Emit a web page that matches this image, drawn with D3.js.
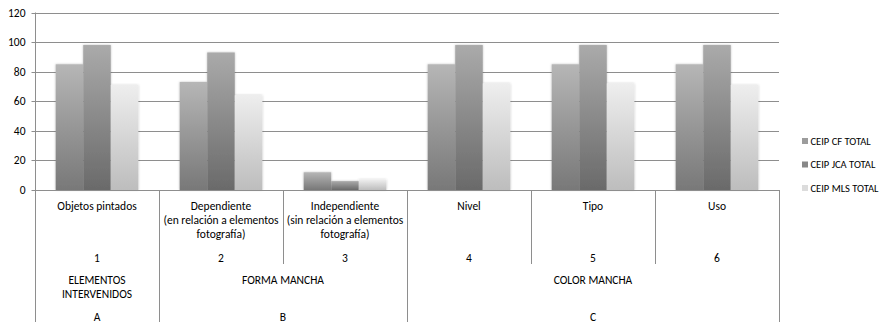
<!DOCTYPE html>
<html>
<head>
<meta charset="utf-8">
<script src="https://cdn.jsdelivr.net/npm/d3@7"></script>
<style>
  html, body { margin: 0; padding: 0; background: #fff; }
  svg { display: block; font-family: Carlito, Calibri, Lato, "Open Sans", sans-serif; }
</style>
</head>
<body>
<svg id="chart" width="890" height="322"></svg>
<script>
// Category labels (one entry per line of text)
const categoryLines = [
  ["Objetos pintados"],
  ["Dependiente", "(en relación a elementos", "fotografía)"],
  ["Independiente", "(sin relación a elementos", "fotografía)"],
  ["Nivel"],
  ["Tipo"],
  ["Uso"]
];
const categoryNumbers = ["1", "2", "3", "4", "5", "6"];

// Outer grouping of categories
const groupNames = [["ELEMENTOS", "INTERVENIDOS"], ["FORMA MANCHA"], ["COLOR MANCHA"]];
const groupLetters = ["A", "B", "C"];
const groupSizes = [1, 2, 3];

// Series
const seriesNames = ["CEIP CF TOTAL", "CEIP JCA TOTAL", "CEIP MLS TOTAL"];
const cfTotal  = [85, 73, 12, 85, 85, 85];
const jcaTotal = [98, 93, 6, 98, 98, 98];
const mlsTotal = [71, 64, 7, 72, 72, 71];
const seriesValues = [cfTotal, jcaTotal, mlsTotal];

const yTicks = [0, 20, 40, 60, 80, 100, 120];

const svg = d3.select("#chart");
const W = 890, H = 322;
const plot = { left: 35, right: 779, top: 12.5, bottom: 190 };
const axisColor = "#8e8e8e";
const textColor = "#000";

// Gradient fills per series (light at top, darker at bottom)
const gradStops = [
  ["#b6b6b6", "#787878"],
  ["#aaaaaa", "#6a6a6a"],
  ["#eeeeee", "#bdbdbd"]
];
const defs = svg.append("defs");
gradStops.forEach((s, i) => {
  const g = defs.append("linearGradient")
    .attr("id", "grad" + i)
    .attr("x1", 0).attr("y1", 0).attr("x2", 0).attr("y2", 1);
  g.append("stop").attr("offset", "0%").attr("stop-color", s[0]);
  g.append("stop").attr("offset", "100%").attr("stop-color", s[1]);
});
const shadow = defs.append("filter").attr("id", "soft")
  .attr("x", "-20%").attr("y", "-20%").attr("width", "140%").attr("height", "140%");
shadow.append("feDropShadow")
  .attr("dx", 0).attr("dy", 0).attr("stdDeviation", 0.8)
  .attr("flood-color", "#000").attr("flood-opacity", 0.25);

const idx = d3.range(categoryLines.length);

const x0 = d3.scaleBand()
  .domain(idx)
  .range([plot.left, plot.right])
  .paddingInner(1 / 3)
  .paddingOuter(1 / 6);
const step = x0.step();
const edge = i => x0(i) - (step - x0.bandwidth()) / 2;   // left boundary of a category slot

const x1 = d3.scaleBand()
  .domain(d3.range(seriesNames.length))
  .range([0, x0.bandwidth()]);

const y = d3.scaleLinear().domain([0, 120]).range([plot.bottom, plot.top]);

// Gridlines
svg.append("g")
  .selectAll("line")
  .data(yTicks.filter(t => t > 0))
  .join("line")
  .attr("x1", plot.left).attr("x2", plot.right)
  .attr("y1", d => Math.round(y(d)) + 0.5).attr("y2", d => Math.round(y(d)) + 0.5)
  .attr("stroke", axisColor).attr("stroke-width", 1);

// Y axis
const yAxis = d3.axisLeft(y).tickValues(yTicks).tickSize(4).tickPadding(6).tickSizeOuter(0);
const yg = svg.append("g").attr("transform", `translate(${plot.left + 0.5},0)`).call(yAxis);
yg.select(".domain").remove();
yg.selectAll(".tick line").attr("stroke", axisColor);
yg.selectAll(".tick text").attr("font-size", 11.5).attr("fill", textColor)
  .style("font-family", "Carlito, Calibri, Lato, sans-serif");
yg.selectAll(".tick").attr("transform", d => `translate(0,${Math.round(y(d)) + 0.5})`);

// Bars
const bars = svg.append("g").attr("filter", "url(#soft)");
seriesValues.forEach((vals, s) => {
  bars.append("g")
    .selectAll("rect")
    .data(vals)
    .join("rect")
    .attr("x", (d, i) => x0(i) + x1(s))
    .attr("width", x1.bandwidth())
    .attr("y", d => y(d))
    .attr("height", d => y(0) - y(d))
    .attr("fill", `url(#grad${s})`);
});

// Axis lines: vertical value axis through label area, baseline
svg.append("line")
  .attr("x1", plot.left + 0.5).attr("x2", plot.left + 0.5)
  .attr("y1", plot.top).attr("y2", H)
  .attr("stroke", axisColor);
svg.append("line")
  .attr("x1", plot.left).attr("x2", plot.right)
  .attr("y1", plot.bottom + 0.5).attr("y2", plot.bottom + 0.5)
  .attr("stroke", axisColor);

// Category dividers: inner level stops at level boundary, group edges run to bottom
const levelBottom = 264;
const groupEdges = new Set();
let acc = 0;
groupSizes.forEach(n => { acc += n; groupEdges.add(acc); });
const divG = svg.append("g");
d3.range(1, idx.length + 1).forEach(k => {
  const xx = Math.round(k < idx.length ? edge(k) : plot.right) + 0.5;
  divG.append("line")
    .attr("x1", xx).attr("x2", xx)
    .attr("y1", plot.bottom).attr("y2", groupEdges.has(k) ? H : levelBottom)
    .attr("stroke", axisColor);
});

// Category labels
const fontSize = 11.5;
const lineH = 13.8;
const labG = svg.append("g").attr("font-size", fontSize).attr("fill", textColor).attr("text-anchor", "middle");
idx.forEach(i => {
  const cx = x0(i) + x0.bandwidth() / 2;
  categoryLines[i].forEach((t, j) => {
    labG.append("text").attr("x", cx).attr("y", 206 + j * lineH).attr("dy", "0.35em").text(t);
  });
  labG.append("text").attr("x", cx).attr("y", 257.5).attr("dy", "0.35em").text(categoryNumbers[i]);
});

// Group labels
let start = 0;
groupSizes.forEach((n, g) => {
  const left = edge(start);
  const right = start + n < idx.length ? edge(start + n) : plot.right;
  const cx = (left + right) / 2;
  groupNames[g].forEach((t, j) => {
    labG.append("text").attr("x", cx).attr("y", 280 + j * lineH).attr("dy", "0.35em").text(t);
  });
  labG.append("text").attr("x", cx).attr("y", 320.5).text(groupLetters[g]);
  start += n;
});

// Legend
const legendColors = ["#9c9c9c", "#888888", "#dcdcdc"];
const leg = svg.append("g").attr("font-size", 10.5).attr("fill", textColor);
seriesNames.forEach((name, s) => {
  const cy = 141 + s * 23.5;
  leg.append("rect").attr("x", 802).attr("y", cy - 3).attr("width", 6).attr("height", 6)
    .attr("fill", legendColors[s]);
  leg.append("text").attr("x", 810.5).attr("y", cy).attr("dy", "0.35em").text(name);
});
</script>
</body>
</html>
